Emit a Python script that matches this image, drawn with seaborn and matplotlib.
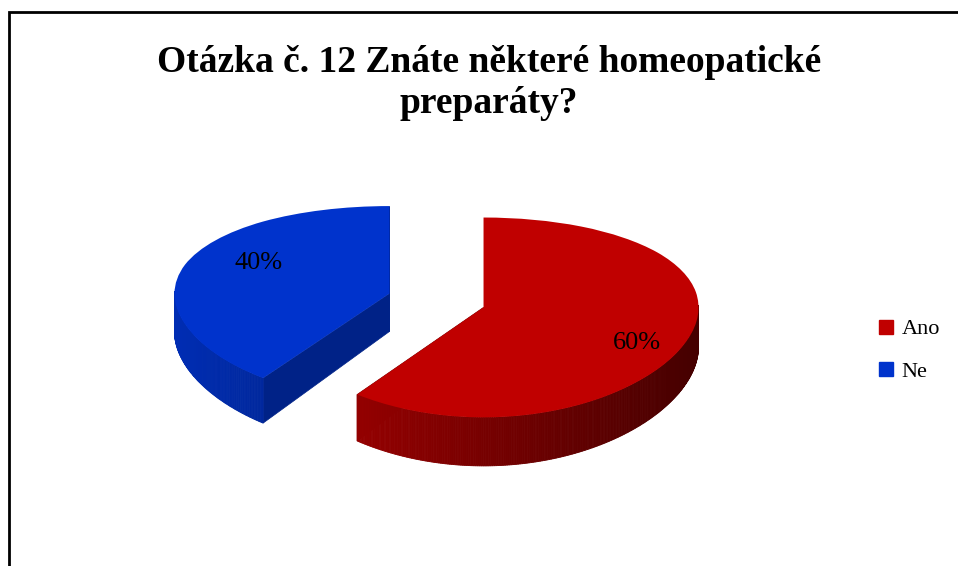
import numpy as np
import matplotlib
matplotlib.use("Agg")
import matplotlib.pyplot as plt
import seaborn as sns
from matplotlib.patches import Polygon, Rectangle
from matplotlib.lines import Line2D
from matplotlib.transforms import offset_copy

# ---- data ----
categories = ["Ano", "Ne"]
values = [60, 40]
title = "Otázka č. 12 Znáte některé homeopatické\npreparáty?"

# ---- style ----
sns.set_theme(style="white")
plt.rcParams["font.family"] = ["Liberation Serif", "DejaVu Serif"]
plt.rcParams["text.color"] = "black"
top_colors = [(192/255, 0, 0), (0, 51/255, 204/255)]

W, H = 958, 566
fig = plt.figure(figsize=(W/100, H/100), dpi=100)
ax = fig.add_axes([0, 0, 1, 1])

wedges, texts, autotexts = ax.pie(
    values, colors=top_colors, startangle=90, counterclock=False,
    explode=[0.23, 0.23], autopct="%d%%", pctdistance=0.75,
    textprops=dict(fontsize=19, color="black"),
    wedgeprops=dict(linewidth=0, antialiased=True))

depth = 0.38
for w, col in zip(wedges, top_colors):
    w.set_zorder(5)
    cx, cy = w.center
    r = w.r
    t1, t2 = w.theta1, w.theta2
    base = np.array(col)
    # cut faces
    for a in (t1, t2):
        ar = np.radians(a)
        px, py = cx + r*np.cos(ar), cy + r*np.sin(ar)
        poly = [(cx, cy), (px, py), (px, py - depth), (cx, cy - depth)]
        ax.add_patch(Polygon(poly, closed=True, facecolor=base*0.66,
                             edgecolor=base*0.66, linewidth=0.5, zorder=2))
    # curved outer side with shading
    th = np.linspace(t1, t2, int(abs(t2 - t1)) * 2 + 2)
    for a, b in zip(th[:-1], th[1:]):
        m = np.radians((a + b) / 2)
        if np.sin(m) > 0.02:
            continue
        ar, br = np.radians(a), np.radians(b)
        tt = (np.cos(m) + 1) / 2
        fc = np.clip(base * (0.88 - 0.52*tt), 0, 1)
        poly = [(cx + r*np.cos(ar), cy + r*np.sin(ar)),
                (cx + r*np.cos(br), cy + r*np.sin(br)),
                (cx + r*np.cos(br), cy + r*np.sin(br) - depth),
                (cx + r*np.cos(ar), cy + r*np.sin(ar) - depth)]
        ax.add_patch(Polygon(poly, closed=True, facecolor=fc, edgecolor=fc,
                             linewidth=0.6, zorder=3))

# label nudges (points) to match the reference placement
nudges = [(0, -9), (16, 6)]
for t, (dx, dy) in zip(autotexts, nudges):
    t.set_zorder(6)
    t.set_transform(offset_copy(ax.transData, fig=fig, x=dx, y=dy, units="points"))

# perspective-like projection: far side compressed via a function scale
k = 0.1
ax.set_aspect("auto")
ax.set_yscale("function", functions=(lambda y: y / (1 + k*y),
                                     lambda Y: Y / (1 - k*Y)))
rx, sy = 215, 97.5
cxp, cyp = 436.5, 300.4
ax.set_xlim(-cxp/rx, (W - cxp)/rx)
Ytop, Ybot = cyp/sy, -(H - cyp)/sy
ax.set_ylim(Ybot / (1 - k*Ybot), Ytop / (1 - k*Ytop))
ax.axis("off")

fig.text(489/W, 1 - 83/H, title, ha="center", va="center", fontsize=27,
         fontweight="bold", linespacing=1.22, color="black")

handles = [Line2D([], [], marker="s", linestyle="", markersize=10,
                  markerfacecolor=c, markeredgecolor=c) for c in top_colors]
fig.legend(handles, categories, loc="upper left",
           bbox_to_anchor=(868/W, 1 - 310/H), frameon=False, fontsize=16,
           handlelength=0.8, handletextpad=0.3, labelspacing=1.0,
           borderaxespad=0)

fig.add_artist(Rectangle((9/W, -0.1), 1.2, 1 - 12/H + 0.1,
                         transform=fig.transFigure, fill=False,
                         edgecolor="black", linewidth=2.0))

fig.savefig("out.png", dpi=100)
